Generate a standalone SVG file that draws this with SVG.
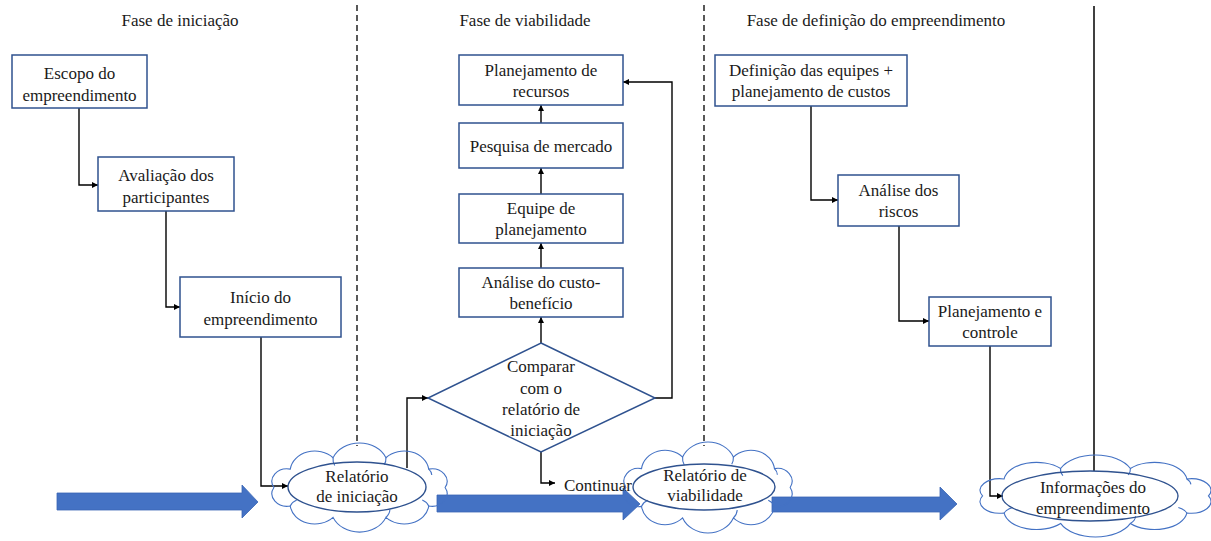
<svg xmlns="http://www.w3.org/2000/svg" width="1211" height="541" viewBox="0 0 1211 541">
  <style>
    .box { fill: #ffffff; stroke: #2F528F; stroke-width: 1.5; }
    .link { fill: none; stroke: #000000; stroke-width: 1.4; marker-end: url(#tip); }
    .divider { fill: none; stroke: #000000; stroke-width: 1.3; stroke-dasharray: 6 4; }
    .flow { fill: #4472C4; stroke: #3A66B5; stroke-width: 0.8; }
    .cloud { fill: none; stroke: #4472C4; stroke-width: 1.1; }
    .oval { fill: none; stroke: #2F528F; stroke-width: 1.4; }
  </style>
  <defs>
    <marker id="tip" viewBox="0 0 10 10" refX="10" refY="5" markerWidth="6" markerHeight="6" markerUnits="userSpaceOnUse" orient="auto">
      <path d="M0,0 L10,5 L0,10 Z" fill="#000000"/>
    </marker>
    <!-- lumpy cloud outline in a 200x100 unit frame, with a few inner curls -->
    <g id="cloudShape">
      <path vector-effect="non-scaling-stroke" d="M190,50 A16,16 0 0 1 172.8,73.5 A26,26 0 0 1 127.8,88 A30,30 0 0 1 72.2,88 A26,26 0 0 1 27.2,73.5 A16,16 0 0 1 10,50 A16,16 0 0 1 27.2,26.5 A26,26 0 0 1 72.2,12 A30,30 0 0 1 127.8,12 A26,26 0 0 1 172.8,26.5 A16,16 0 0 1 190,50 Z"/>
      <path vector-effect="non-scaling-stroke" d="M72.2,12 A18,18 0 0 0 74,22"/>
      <path vector-effect="non-scaling-stroke" d="M127.8,12 A18,18 0 0 1 126,21"/>
      <path vector-effect="non-scaling-stroke" d="M27.2,73.5 A14,14 0 0 1 34,66"/>
      <path vector-effect="non-scaling-stroke" d="M172.8,73.5 A14,14 0 0 0 166,66"/>
      <path vector-effect="non-scaling-stroke" d="M127.8,88 A16,16 0 0 0 132,78"/>
      <path vector-effect="non-scaling-stroke" d="M172.8,26.5 A12,12 0 0 1 176,34"/>
    </g>
  </defs>

  <!-- phase titles -->
  <g id="headers">
    <text font-family="Liberation Serif" font-size="17" fill="#1a1a1a" text-anchor="middle" x="180" y="26">Fase de iniciação</text>
    <text font-family="Liberation Serif" font-size="17" fill="#1a1a1a" text-anchor="middle" x="525" y="26">Fase de viabilidade</text>
    <text font-family="Liberation Serif" font-size="17" fill="#1a1a1a" text-anchor="middle" x="876" y="26">Fase de definição do empreendimento</text>
  </g>

  <!-- phase separators -->
  <g id="separators">
    <line class="divider" x1="357" y1="5" x2="357" y2="446"/>
    <line class="divider" x1="704" y1="5" x2="704" y2="446"/>
    <line x1="1094" y1="6" x2="1094" y2="471" stroke="#404040" stroke-width="2"/>
  </g>

  <!-- big flow arrows along the bottom -->
  <g id="flow-arrows">
    <polygon class="flow" points="57,493 242,493 242,485 258,502 242,518 242,510 57,510"/>
    <polygon class="flow" points="437,495 623,495 623,488 640,504 623,520 623,512 437,512"/>
    <polygon class="flow" points="772,497 940,497 940,487 957,504 940,520 940,512 772,512"/>
  </g>

  <!-- connectors -->
  <g id="connectors">
    <polyline class="link" points="79,108 79,185 98,185"/>
    <polyline class="link" points="166,211 166,307 180,307"/>
    <polyline class="link" points="261,337 261,486 288,486"/>
    <polyline class="link" points="407,468 407,398 428,398"/>
    <polyline class="link" points="541,343 541,317"/>
    <polyline class="link" points="541,268 541,243"/>
    <polyline class="link" points="541,194 541,168"/>
    <polyline class="link" points="541,123 541,105"/>
    <polyline class="link" points="655,398 672,398 672,82 623,82"/>
    <polyline class="link" points="541,452 541,483 555,483"/>
    <polyline class="link" points="811,106 811,200 838,200"/>
    <polyline class="link" points="899,226 899,321 929,321"/>
    <polyline class="link" points="990,346 990,496 1003,496"/>
  </g>

  <!-- initiation phase -->
  <g id="escopo">
    <rect class="box" x="12" y="55" width="135" height="53"/>
    <text font-family="Liberation Serif" font-size="17" fill="#1a1a1a" text-anchor="middle" x="79.5" y="79">Escopo do</text>
    <text font-family="Liberation Serif" font-size="17" fill="#1a1a1a" text-anchor="middle" x="79.5" y="101">empreendimento</text>
  </g>
  <g id="avaliacao">
    <rect class="box" x="98" y="157" width="136" height="54"/>
    <text font-family="Liberation Serif" font-size="17" fill="#1a1a1a" text-anchor="middle" x="166" y="181">Avaliação dos</text>
    <text font-family="Liberation Serif" font-size="17" fill="#1a1a1a" text-anchor="middle" x="166" y="203">participantes</text>
  </g>
  <g id="inicio">
    <rect class="box" x="180" y="277" width="161" height="60"/>
    <text font-family="Liberation Serif" font-size="17" fill="#1a1a1a" text-anchor="middle" x="260.5" y="303">Início do</text>
    <text font-family="Liberation Serif" font-size="17" fill="#1a1a1a" text-anchor="middle" x="260.5" y="325">empreendimento</text>
  </g>

  <!-- feasibility phase -->
  <g id="planejamento-recursos">
    <rect class="box" x="459" y="55" width="164" height="50"/>
    <text font-family="Liberation Serif" font-size="17" fill="#1a1a1a" text-anchor="middle" x="541" y="76">Planejamento de</text>
    <text font-family="Liberation Serif" font-size="17" fill="#1a1a1a" text-anchor="middle" x="541" y="97">recursos</text>
  </g>
  <g id="pesquisa">
    <rect class="box" x="459" y="123" width="164" height="45"/>
    <text font-family="Liberation Serif" font-size="17" fill="#1a1a1a" text-anchor="middle" x="541" y="152">Pesquisa de mercado</text>
  </g>
  <g id="equipe">
    <rect class="box" x="459" y="194" width="164" height="49"/>
    <text font-family="Liberation Serif" font-size="17" fill="#1a1a1a" text-anchor="middle" x="541" y="214">Equipe de</text>
    <text font-family="Liberation Serif" font-size="17" fill="#1a1a1a" text-anchor="middle" x="541" y="235">planejamento</text>
  </g>
  <g id="custo-beneficio">
    <rect class="box" x="459" y="268" width="164" height="49"/>
    <text font-family="Liberation Serif" font-size="17" fill="#1a1a1a" text-anchor="middle" x="541" y="288">Análise do custo-</text>
    <text font-family="Liberation Serif" font-size="17" fill="#1a1a1a" text-anchor="middle" x="541" y="309">benefício</text>
  </g>
  <g id="comparar">
    <polygon class="box" points="541,343 655,398 541,452 428,398"/>
    <text font-family="Liberation Serif" font-size="17" fill="#1a1a1a" text-anchor="middle" x="541" y="372">Comparar</text>
    <text font-family="Liberation Serif" font-size="17" fill="#1a1a1a" text-anchor="middle" x="541" y="394">com o</text>
    <text font-family="Liberation Serif" font-size="17" fill="#1a1a1a" text-anchor="middle" x="541" y="415">relatório de</text>
    <text font-family="Liberation Serif" font-size="17" fill="#1a1a1a" text-anchor="middle" x="541" y="436">iniciação</text>
  </g>
  <g id="continuar">
    <text font-family="Liberation Serif" font-size="17" fill="#1a1a1a" text-anchor="start" x="564" y="491">Continuar</text>
  </g>

  <!-- definition phase -->
  <g id="definicao">
    <rect class="box" x="715" y="55" width="192" height="51"/>
    <text font-family="Liberation Serif" font-size="17" fill="#1a1a1a" text-anchor="middle" x="811" y="76">Definição das equipes +</text>
    <text font-family="Liberation Serif" font-size="17" fill="#1a1a1a" text-anchor="middle" x="811" y="97">planejamento de custos</text>
  </g>
  <g id="riscos">
    <rect class="box" x="838" y="175" width="121" height="51"/>
    <text font-family="Liberation Serif" font-size="17" fill="#1a1a1a" text-anchor="middle" x="898.5" y="196">Análise dos</text>
    <text font-family="Liberation Serif" font-size="17" fill="#1a1a1a" text-anchor="middle" x="898.5" y="217">riscos</text>
  </g>
  <g id="controle">
    <rect class="box" x="929" y="297" width="122" height="49"/>
    <text font-family="Liberation Serif" font-size="17" fill="#1a1a1a" text-anchor="middle" x="990" y="317">Planejamento e</text>
    <text font-family="Liberation Serif" font-size="17" fill="#1a1a1a" text-anchor="middle" x="990" y="338">controle</text>
  </g>

  <!-- report clouds -->
  <g id="relatorio-iniciacao">
    <use href="#cloudShape" class="cloud" transform="translate(264.4,448.3) scale(0.951,0.785)"/>
    <ellipse class="oval" cx="357" cy="487" rx="69" ry="25"/>
    <text font-family="Liberation Serif" font-size="17" fill="#1a1a1a" text-anchor="middle" x="357" y="482">Relatório</text>
    <text font-family="Liberation Serif" font-size="17" fill="#1a1a1a" text-anchor="middle" x="357" y="502">de iniciação</text>
  </g>
  <g id="relatorio-viabilidade">
    <use href="#cloudShape" class="cloud" transform="translate(616.7,447.4) scale(0.913,0.802)"/>
    <ellipse class="oval" cx="704" cy="487" rx="71" ry="23"/>
    <text font-family="Liberation Serif" font-size="17" fill="#1a1a1a" text-anchor="middle" x="705" y="481">Relatório de</text>
    <text font-family="Liberation Serif" font-size="17" fill="#1a1a1a" text-anchor="middle" x="705" y="501">viabilidade</text>
  </g>
  <g id="informacoes">
    <use href="#cloudShape" class="cloud" transform="translate(970,459.8) scale(1.255,0.723)"/>
    <ellipse class="oval" cx="1090" cy="496" rx="88" ry="25"/>
    <text font-family="Liberation Serif" font-size="17" fill="#1a1a1a" text-anchor="middle" x="1093" y="493">Informações do</text>
    <text font-family="Liberation Serif" font-size="17" fill="#1a1a1a" text-anchor="middle" x="1093" y="514">empreendimento</text>
  </g>
</svg>
